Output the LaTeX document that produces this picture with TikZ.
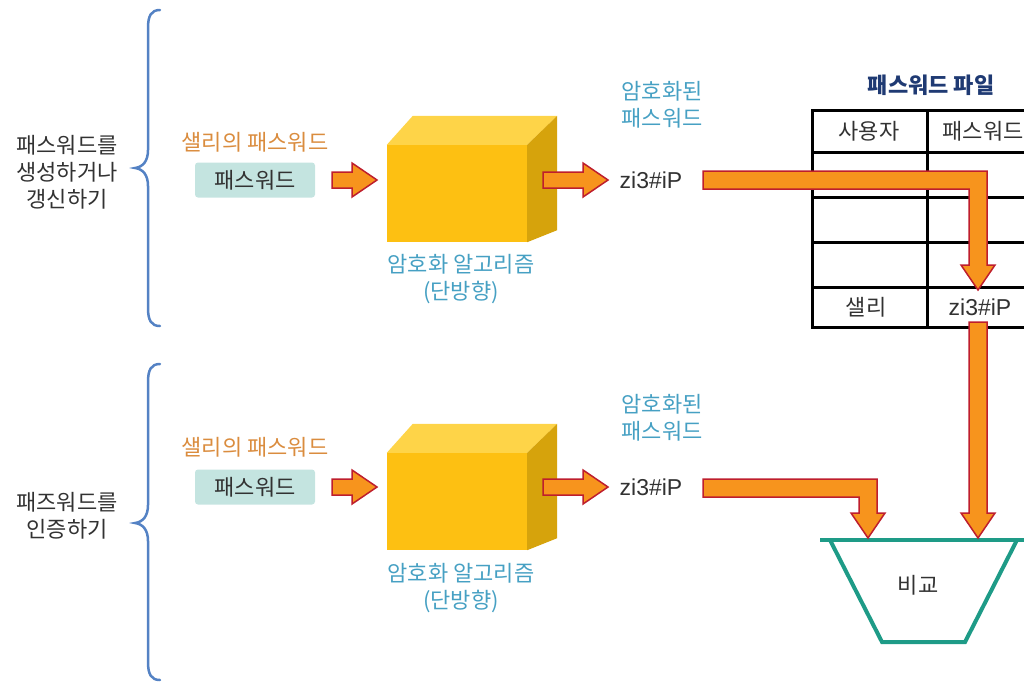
\documentclass[tikz,border=0pt]{standalone}
\usepackage{fontspec}
\setmainfont{Noto Sans CJK KR}
\newfontfamily\latinf{Liberation Sans}
\usetikzlibrary{calc}
\definecolor{txtgray}{RGB}{50,50,50}
\definecolor{sallyor}{RGB}{218,140,62}
\definecolor{tealblue}{RGB}{70,160,195}
\definecolor{boxfill}{RGB}{196,228,224}
\definecolor{arrfill}{RGB}{247,148,29}
\definecolor{arrline}{RGB}{190,30,45}
\definecolor{cubefront}{RGB}{253,192,18}
\definecolor{cubetop}{RGB}{254,212,72}
\definecolor{cuberight}{RGB}{214,163,12}
\definecolor{bracecol}{RGB}{84,130,196}
\definecolor{navy}{RGB}{31,58,115}
\definecolor{trapcol}{RGB}{30,155,135}
\tikzset{
  txt/.style={font=\fontsize{22}{27}\selectfont, inner sep=0pt, align=center, text=txtgray},
  sally/.style={txt, text=sallyor},
  bluetxt/.style={txt, text=tealblue},
  pwbox/.style={txt, fill=boxfill, rounded corners=3pt, minimum width=120pt, minimum height=35pt},
  code/.style={font=\latinf\fontsize{23}{26}\selectfont, inner sep=0pt, text=txtgray},
  barrow/.style={fill=arrfill, draw=arrline, line width=1.5pt, line join=miter},
  bracestyle/.style={draw=bracecol, line width=2.5pt, line cap=round},
  cubeface/.style={inner sep=0pt, minimum width=140pt, minimum height=97pt, fill=cubefront},
  tline/.style={draw=black, line width=3pt},
  trap/.style={draw=trapcol, line width=4pt, line join=miter}
}
\newcommand\harr[2]{\filldraw[barrow] let \p1=(#1), \p2=(#2) in
 (\x1,{\y1+8pt}) -- ({\x2-25pt},{\y1+8pt}) -- ({\x2-25pt},{\y1+17pt}) -- (\x2,\y1)
 -- ({\x2-25pt},{\y1-17pt}) -- ({\x2-25pt},{\y1-8pt}) -- (\x1,{\y1-8pt}) -- cycle;}
\newcommand\barr[2]{\filldraw[barrow] let \p1=(#1), \p2=(#2) in
 (\x1,{\y1+9pt}) -- ({\x2+9pt},{\y1+9pt}) -- ({\x2+9pt},{\y2+25pt}) -- ({\x2+17pt},{\y2+25pt})
 -- (\x2,\y2) -- ({\x2-17pt},{\y2+25pt}) -- ({\x2-9pt},{\y2+25pt}) -- ({\x2-9pt},{\y1-9pt})
 -- (\x1,{\y1-9pt}) -- cycle;}
\newcommand\varr[2]{\filldraw[barrow] let \p1=(#1), \p2=(#2) in
 ({\x2-9pt},\y1) -- ({\x2+9pt},\y1) -- ({\x2+9pt},{\y2+25pt}) -- ({\x2+17pt},{\y2+25pt})
 -- (\x2,\y2) -- ({\x2-17pt},{\y2+25pt}) -- ({\x2-9pt},{\y2+25pt}) -- cycle;}
\newcommand\cube[2]{% name, y of front centre
  \node[cubeface] (#1) at (457,#2) {};
  \fill[cubetop] (#1.north west) -- (#1.north east) -- ($(#1.north east)+(30,-29)$) -- ($(#1.north west)+(26,-29)$) -- cycle;
  \fill[cuberight] (#1.north east) -- ($(#1.north east)+(30,-29)$) -- ($(#1.south east)+(30,-12)$) -- (#1.south east) -- cycle;
}
\begin{document}
\begin{tikzpicture}[x=1pt,y=-1pt]
\useasboundingbox (0,0) rectangle (1024,681);
\begin{scope}
\clip (0,0) rectangle (1024,681);

% ---------- braces ----------
\draw[bracestyle] (160,10) .. controls (151,10) and (148,16) .. (148,28) -- (148,150)
  .. controls (148,161) and (143,167) .. (135,168) .. controls (143,169) and (148,175) .. (148,186)
  -- (148,308) .. controls (148,320) and (151,326) .. (160,326);
\draw[bracestyle] (160,364) .. controls (151,364) and (148,370) .. (148,382) -- (148,505)
  .. controls (148,516) and (143,522) .. (135,523) .. controls (143,524) and (148,530) .. (148,541)
  -- (148,662) .. controls (148,674) and (151,680) .. (160,680);

% ---------- left labels ----------
\node[txt] (g1) at (67,172) {패스워드를\\생성하거나\\갱신하기};
\node[txt] (g2) at (67,516) {패즈워드를\\인증하기};

% ---------- top row ----------
\node[sally] (s1) at (255,142) {샐리의 패스워드};
\node[pwbox] (p1) at (255,180) {패스워드};
\cube{c1}{193.5}
\node[bluetxt] (al1) at (461,279) {암호화 알고리즘\\(단방향)};
\node[bluetxt] (e1) at (662,105) {암호화된\\패스워드};
\node[code] (z1) at (651,180) {zi3\#iP};
\coordinate (a1s) at (332,180);
\coordinate (a1e) at (377,180);
\coordinate (a2s) at (543,180);
\coordinate (a2e) at (608,180);
\harr{a1s}{a1e}
\harr{a2s}{a2e}

% ---------- bottom row ----------
\node[sally] (s2) at (255,447) {샐리의 패스워드};
\node[pwbox] (p2) at (255,487) {패스워드};
\cube{c2}{501.5}
\node[bluetxt] (al2) at (461,588) {암호화 알고리즘\\(단방향)};
\node[bluetxt] (e2) at (662,418) {암호화된\\패스워드};
\node[code] (z2) at (651,487) {zi3\#iP};
\coordinate (b1s) at (332,487);
\coordinate (b1e) at (377,487);
\coordinate (b2s) at (543,487);
\coordinate (b2e) at (608,487);
\harr{b1s}{b1e}
\harr{b2s}{b2e}

% ---------- password file table ----------
\node[font=\fontsize{22}{26}\selectfont\bfseries, text=navy, inner sep=0pt] (title) at (931,85) {패스워드 파일};
\draw[tline] (1040,110) -- (812,110) -- (812,327) -- (1040,327);
\draw[tline] (812,152) -- (1040,152);
\draw[tline] (812,197) -- (1040,197);
\draw[tline] (812,242) -- (1040,242);
\draw[tline] (812,287) -- (1040,287);
\draw[tline] (927,110) -- (927,327);
\node[txt] (h1) at (869,131) {사용자};
\node[txt] (h2) at (983,131) {패스워드};
\node[txt] (r1) at (866,307) {샐리};
\node[code] (r2) at (980,307) {zi3\#iP};

% ---------- compare ----------
\draw[trap] (820,540) -- (1040,540);
\draw[trap] (830,540) -- (882,642) -- (965,642) -- (1017,540);
\node[txt] (cmp) at (918,585) {비교};

% ---------- big arrows ----------
\coordinate (t1s) at (703,180);
\coordinate (t1e) at (978,290);
\barr{t1s}{t1e}
\coordinate (v1s) at (978,322);
\coordinate (v1e) at (978,538);
\varr{v1s}{v1e}
\coordinate (t2s) at (703,488);
\coordinate (t2e) at (868,538);
\barr{t2s}{t2e}
\end{scope}
\end{tikzpicture}
\end{document}
